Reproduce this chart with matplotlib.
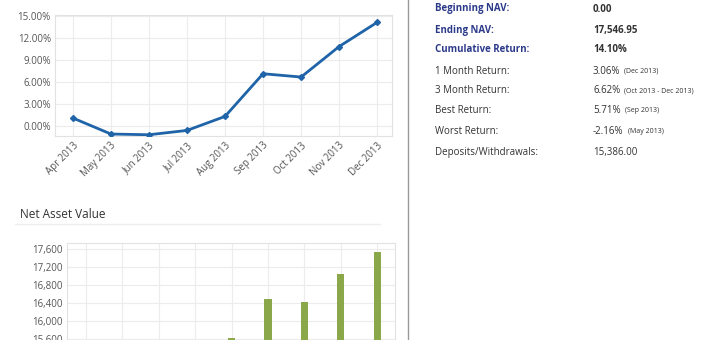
import matplotlib
matplotlib.use("Agg")
import matplotlib.pyplot as plt
from matplotlib.ticker import FuncFormatter

plt.rcParams["font.family"] = ["Open Sans", "DejaVu Sans"]

# data
months = ["Apr 2013", "May 2013", "Jun 2013", "Jul 2013", "Aug 2013",
          "Sep 2013", "Oct 2013", "Nov 2013", "Dec 2013"]
cum_return = [1.05, -1.13, -1.23, -0.64, 1.27, 7.09, 6.64, 10.80, 14.10]
nav = [15200, 14950, 14930, 15020, 15620, 16489, 16429, 17051, 17547]
return_ticks = [0, 3, 6, 9, 12, 15]
nav_ticks = [15600, 16000, 16400, 16800, 17200, 17600]

stat_labels = ["Beginning NAV:", "Ending NAV:", "Cumulative Return:",
               "1 Month Return:", "3 Month Return:", "Best Return:",
               "Worst Return:", "Deposits/Withdrawals:"]
stat_values = ["0.00", "17,546.95", "14.10%", "3.06%", "6.62%", "5.71%",
               "-2.16%", "15,386.00"]
stat_notes = ["", "", "", "(Dec 2013)", "(Oct 2013 - Dec 2013)", "(Sep 2013)",
              "(May 2013)", ""]

W, H = 720, 340
fig = plt.figure(figsize=(7.2, 3.4), dpi=100)
fig.patch.set_facecolor("white")


def px_axes(x0, y0, x1, y1):
    # pixel box (top-left origin) -> figure axes
    return fig.add_axes([x0 / W, 1 - y1 / H, (x1 - x0) / W, (y1 - y0) / H])


grid_c = "#ececec"
tick_c = "#555555"
xs = list(range(len(months)))

# cumulative return line chart
ax1 = px_axes(55, 15, 392, 136)
ax1.plot(xs, cum_return, color="#1f63a8", lw=2, marker="D", ms=3, zorder=3)
ax1.set_xlim(-0.47, 8.39)
ax1.set_ylim(-1.4, 15.1)
ax1.set_yticks(return_ticks)
ax1.yaxis.set_major_formatter(FuncFormatter(lambda v, p: f"{v:.2f}%"))
ax1.set_xticks(xs)
ax1.set_xticklabels(months, rotation=45, ha="right", rotation_mode="anchor")

# net asset value bars (axes runs past the bottom of the figure)
fig.text(20 / W, 1 - 214 / H, "Net Asset Value", fontsize=8.5, color="#333333",
         va="center", ha="left")
fig.add_artist(plt.Line2D([15 / W, 380 / W], [1 - 224 / H, 1 - 224 / H],
                          color="#eeeeee", lw=1))
ax2 = px_axes(67, 243, 395, 380)
ax2.bar(xs, nav, width=0.2, color="#8aa84a", zorder=3)
ax2.set_xlim(-0.52, 8.49)
ax2.set_ylim(14696, 17740)
ax2.set_yticks(nav_ticks)
ax2.yaxis.set_major_formatter(FuncFormatter(lambda v, p: f"{v:,.0f}"))
ax2.set_xticks(xs)
ax2.set_xticklabels([])

for ax in (ax1, ax2):
    ax.grid(True, color=grid_c, lw=0.8)
    ax.set_axisbelow(True)
    for s in ax.spines.values():
        s.set_color("#e2e2e2")
        s.set_linewidth(0.8)
    ax.tick_params(length=0, labelsize=7, colors=tick_c, pad=3)

# divider
fig.add_artist(plt.Line2D([408 / W, 408 / W], [0, 1], color="#9a9a9a", lw=1))

# statistics panel
rows_y = [9, 30, 50, 71, 91, 111, 132, 152]
for i, (lab, val, note) in enumerate(zip(stat_labels, stat_values, stat_notes)):
    y = 1 - rows_y[i] / H
    bold = i < 3
    fig.text(435 / W, y, lab, fontsize=7, va="center", ha="left",
             color="#2c3a8a" if bold else "#333333",
             fontweight="bold" if bold else "normal")
    t = fig.text(593 / W, y, val, fontsize=7, va="center", ha="left",
                 color="#333333", fontweight="bold" if bold else "normal")
    if note:
        fig.canvas.draw()
        bb = t.get_window_extent()
        fig.text((bb.x1 + 4) / W, y, note, fontsize=5, va="center", ha="left",
                 color="#333333")

fig.savefig("out.png", dpi=100)
